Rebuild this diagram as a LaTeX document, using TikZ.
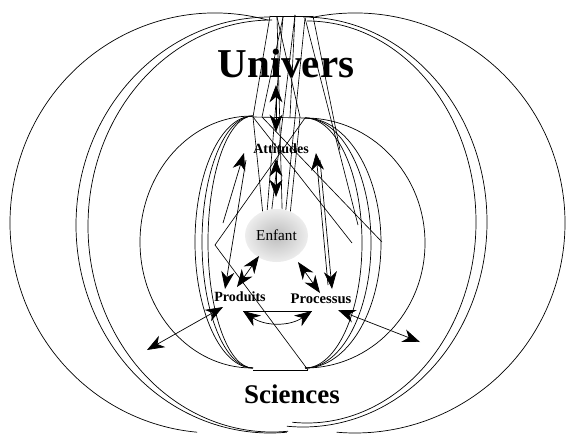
\documentclass[tikz,border=0pt]{standalone}
\usepackage{fontspec}
\setmainfont{Liberation Serif}
\usepackage{tikz}
\usetikzlibrary{arrows.meta,shapes.geometric}
\definecolor{ink}{HTML}{000000}
\definecolor{ballin}{HTML}{BDBDBD}
\definecolor{ballout}{HTML}{EDEDED}

\begin{document}
\begin{tikzpicture}[
   x=0.03cm,y=0.03cm,
   ln/.style   ={draw=ink,line width=0.55pt},
   ring/.style ={draw=ink,line width=0.6pt},
   dbl/.style  ={{Stealth[length=5.2mm,width=3.9mm,inset=1.6mm]}-{Stealth[length=5.2mm,width=3.9mm,inset=1.6mm]},draw=ink,line width=0.6pt},
   one/.style  ={-{Stealth[length=5.2mm,width=3.9mm,inset=1.6mm]},draw=ink,line width=0.6pt},
   big/.style  ={font=\bfseries\fontsize{35}{40}\selectfont,anchor=base,inner sep=0pt},
   mid/.style  ={font=\bfseries\fontsize{23}{27}\selectfont,anchor=base,inner sep=0pt},
   lbl/.style  ={font=\bfseries\fontsize{12}{14}\selectfont,anchor=base,inner sep=0pt},
   kid/.style  ={ellipse,shading=radial,inner color=ballin,outer color=ballout,
                 minimum width=18.9mm,minimum height=15.9mm,inner sep=0pt,
                 font=\fontsize{13}{15}\selectfont}
  ]
  \useasboundingbox (0,0) rectangle (566,435);

  % outer rings
  \draw[ring] ([shift={(75:205 and 210)}]215,212) arc[start angle=75,end angle=265,x radius=205,y radius=210];
  \draw[ring] ([shift={(102:210 and 210)}]355,212) arc[start angle=102,end angle=-95,x radius=210,y radius=210];
  \draw[ring] (270,418) arc[start angle=90,end angle=275,x radius=194,y radius=208];
  \draw[ring] (272,415) arc[start angle=90,end angle=275,x radius=184,y radius=206];
  \draw[ring] (303,418) arc[start angle=90,end angle=-95,x radius=184,y radius=205];
  \draw[ring] (307,414) arc[start angle=90,end angle=-95,x radius=169,y radius=201];

  % inner circle and inner arcs
  \draw[ring] (252,319) arc[start angle=90,end angle=270,x radius=112,y radius=126];
  \draw[ring] (305,317) arc[start angle=90,end angle=-90,x radius=120,y radius=125];
  \foreach \rx in {58,51,45}
    \draw[ring] (253,319) arc[start angle=90,end angle=270,x radius=\rx,y radius=126];
  \foreach \rx in {76,66,57}
    \draw[ring] (305,317) arc[start angle=90,end angle=-90,x radius=\rx,y radius=125];

  % cluster points
  \coordinate (t1) at (270,419);
  \coordinate (t2) at (277,418);
  \coordinate (t3) at (283,418);
  \coordinate (t4) at (295,420);
  \coordinate (t5) at (305,417);
  \coordinate (t6) at (313,419);
  \coordinate (a1) at (253,318);
  \coordinate (a2) at (262,318);
  \coordinate (a3) at (290,318);
  \coordinate (a4) at (300,318);
  \coordinate (a5) at (305,317);
  \coordinate (b1) at (253,65);
  \coordinate (b2) at (308,65);
  \coordinate (v)  at (215,190);

  % labels
  \node[big] (univ) at (286,358) {Univers};
  \node[mid] (sci)  at (292,32)  {Sciences};
  \node[lbl] (att)  at (281,282) {Attitudes};
  \node[lbl] (prod) at (240,134) {Produits};
  \node[lbl,font=\bfseries\fontsize{12.5}{14}\selectfont] (proc) at (321,132) {Processus};
  \node[kid] (enf) at (276.5,199.5) {Enfant};

  % straight strokes
  \draw[ln] (t1) -- (t6);
  \draw[ln] (a1) -- (a5);
  \draw[ln] (b1) -- (b2);
  \draw[ln] (t1) -- (a1);
  \draw[ln] (t3) -- (a2);
  \draw[ln] (t2) -- (a4);
  \draw[ln] (t4) -- (a3);
  \draw[ln] (t3) -- (enf.110);
  \draw[ln] (t4) -- (enf.100);
  \draw[ln] (t2) -- (enf.78);
  \draw[ln] (t5) -- (enf.70);
  \draw[ln] (t5) -- (358,210);
  \draw[ln] (t6) -- (340,285);
  \draw[ln] (a1) -- (352,192);
  \draw[ln] (a2) -- (382,193);
  \draw[ln] (a1) -- (enf.120);
  \draw[ln] (a4) -- (enf.60);
  \draw[ln] (a5) -- (v) -- (b2);

  % arrows
  \coordinate (u1) at (276,350);
  \coordinate (u2) at (276,303);
  \draw[dbl] (u1) -- (u2);
  \coordinate (e1) at (276,276);
  \coordinate (e2) at (276,238);
  \draw[dbl] (e1) -- (e2);
  \coordinate (p1) at (259,179);
  \coordinate (p2) at (237,148);
  \draw[dbl] (p1) -- (p2);
  \coordinate (q1) at (298,173);
  \coordinate (q2) at (320,142);
  \draw[dbl] (q1) -- (q2);
  \coordinate (m1) at (243,124);
  \coordinate (m2) at (312,124);
  \draw[ln] (m1) -- (m2);
  \draw[dbl] (m1) to[bend right=35] (m2);
  \coordinate (l1) at (223,128);
  \coordinate (l2) at (147,85);
  \draw[dbl] (l1) -- (l2);
  \coordinate (r1) at (338,125);
  \coordinate (r2) at (420,93);
  \draw[dbl] (r1) -- (r2);
  \coordinate (ul) at (223,212);
  \coordinate (hl) at (244,282);
  \draw[one] (ul) -- (hl);
  \coordinate (dl) at (246,275);
  \coordinate (fl) at (225,146);
  \draw[one] (dl) -- (fl);
  \coordinate (ur) at (328,150);
  \coordinate (hr) at (316,282);
  \draw[one] (ur) -- (hr);
  \coordinate (dr) at (320,275);
  \coordinate (fr) at (332,146);
  \draw[one] (dr) -- (fr);
\end{tikzpicture}
\end{document}
